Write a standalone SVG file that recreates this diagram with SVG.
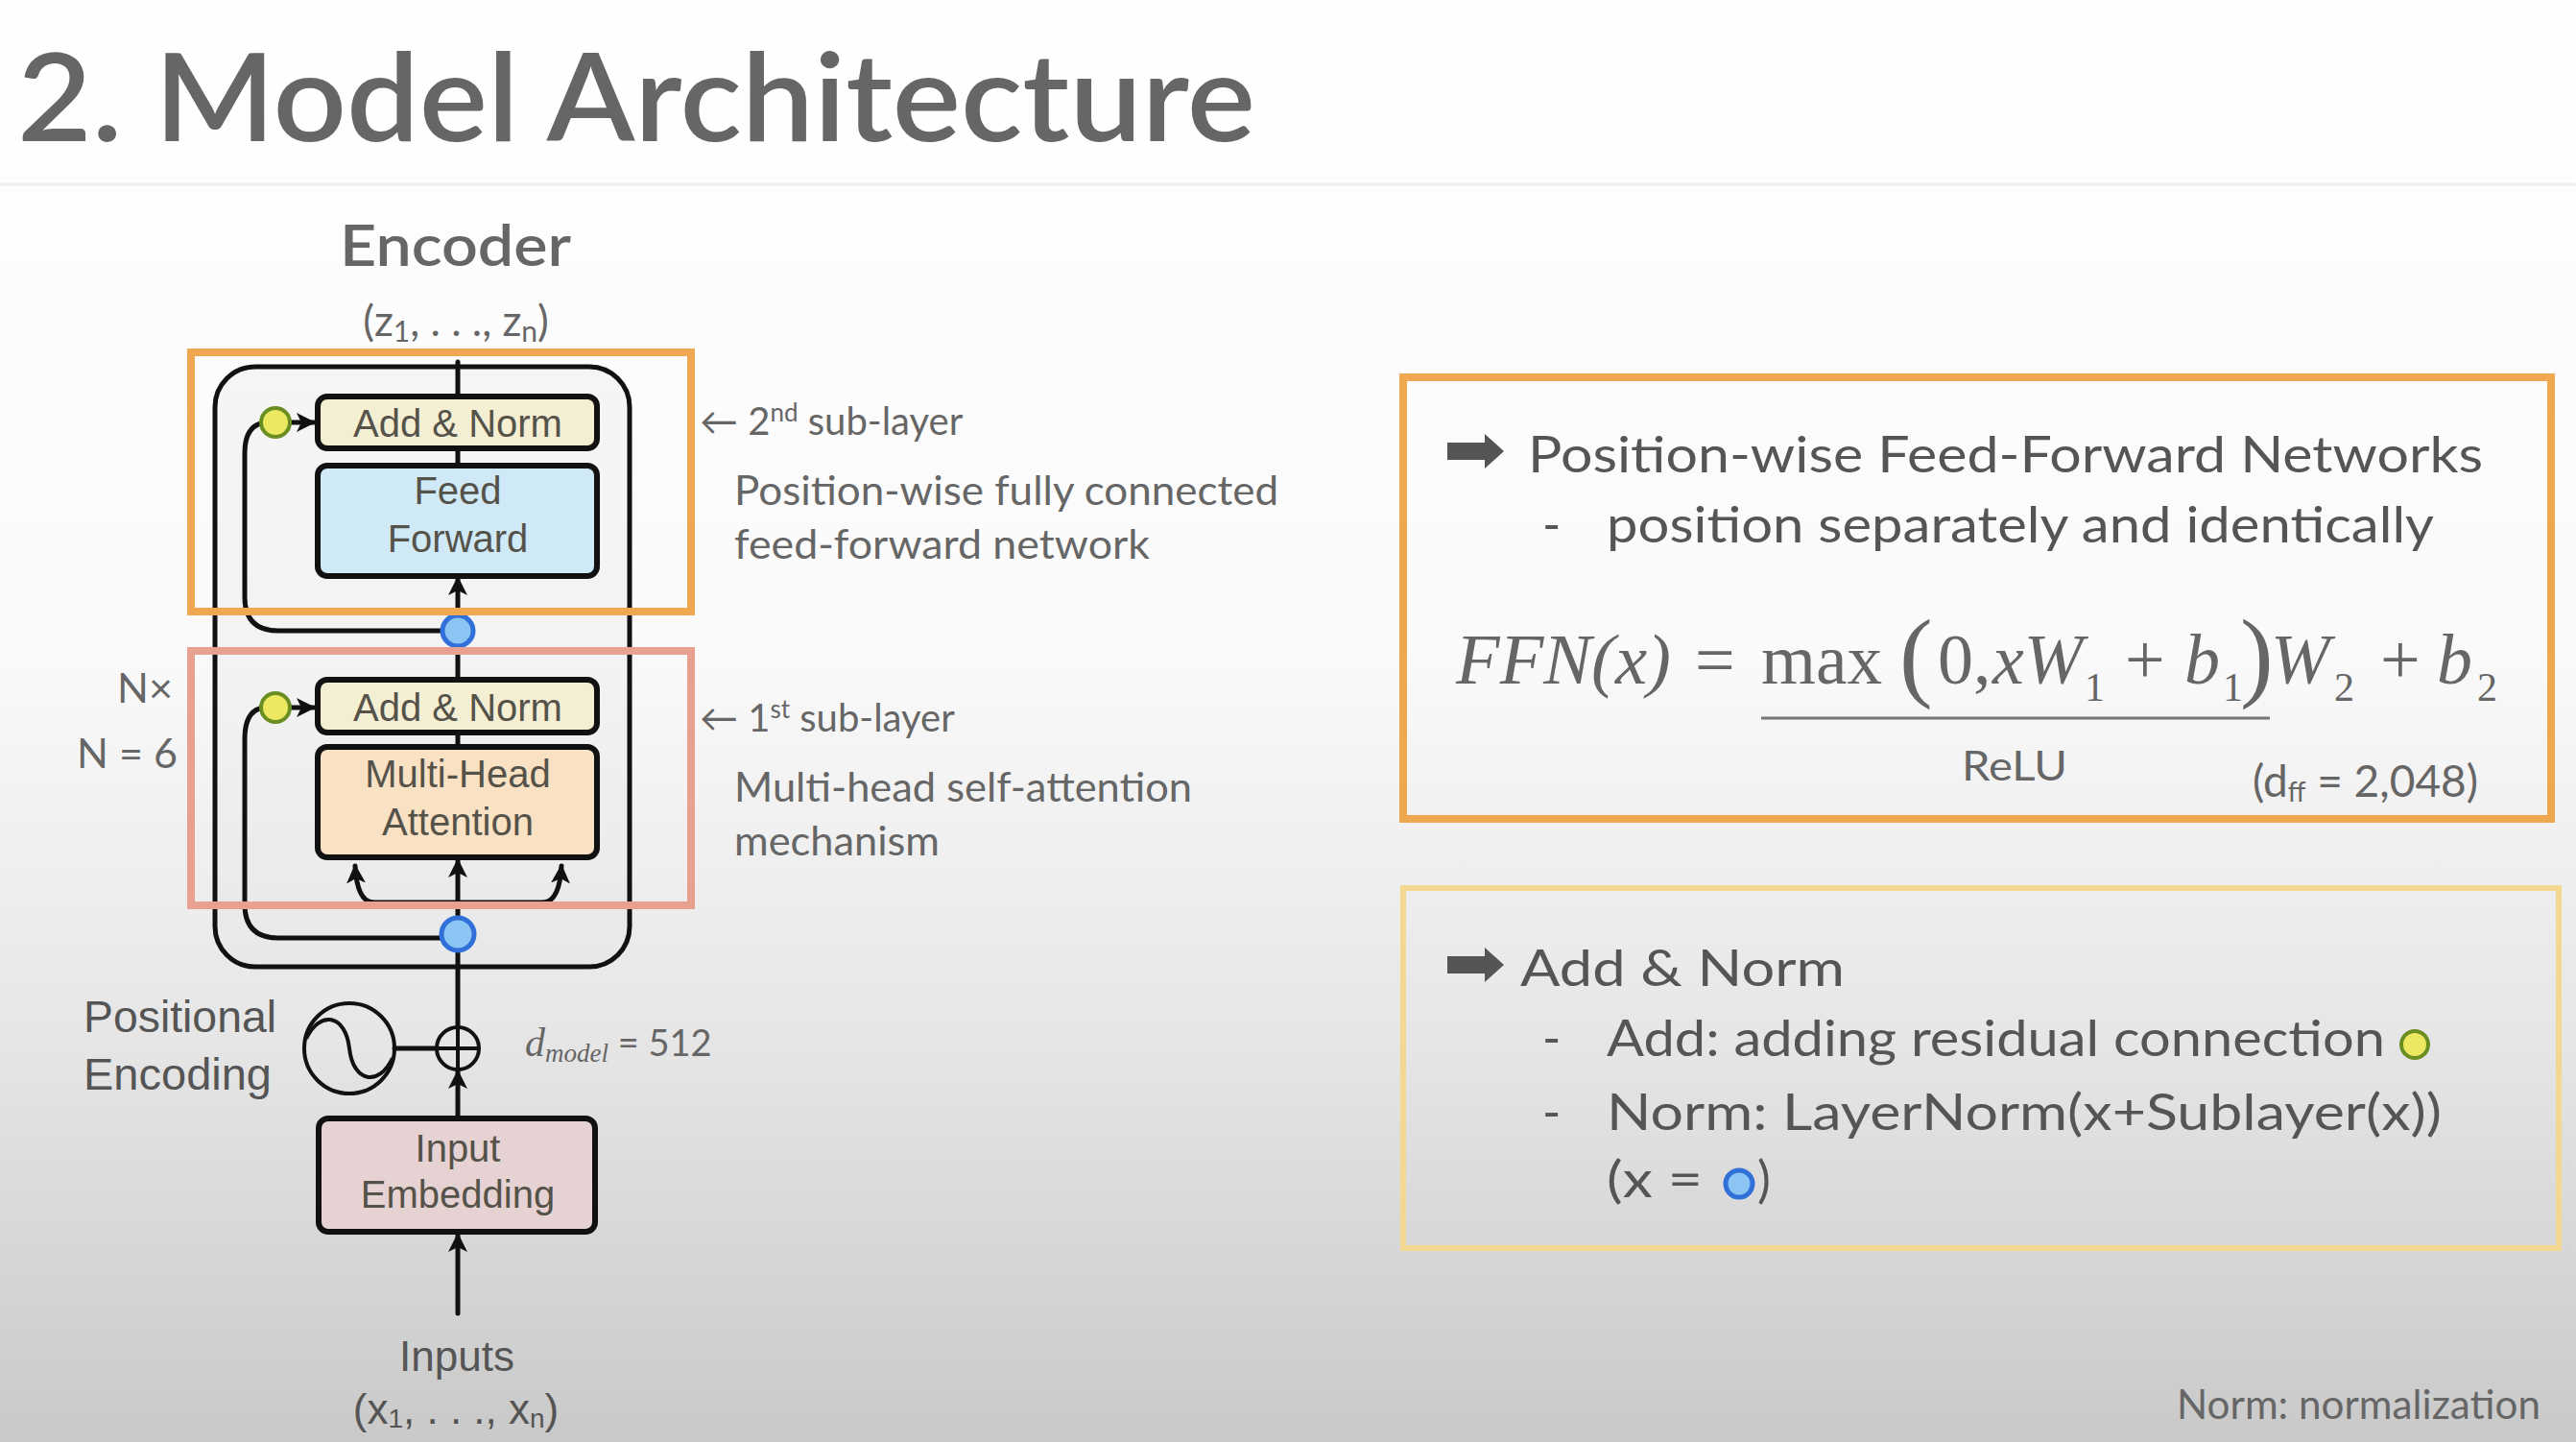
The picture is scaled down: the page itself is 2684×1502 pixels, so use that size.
<svg xmlns="http://www.w3.org/2000/svg" width="2684" height="1502" viewBox="0 0 2684 1502">
<defs>
<linearGradient id="bg" x1="0" y1="0" x2="0" y2="1">
<stop offset="0" stop-color="#ffffff"/>
<stop offset="0.45" stop-color="#fafafa"/>
<stop offset="0.72" stop-color="#e6e6e6"/>
<stop offset="1" stop-color="#c9c9c9"/>
</linearGradient>
<marker id="ah" viewBox="0 0 10 10" refX="9" refY="5" markerWidth="4" markerHeight="4" orient="auto" markerUnits="strokeWidth">
<path d="M0,0 L10,5 L0,10 L2.5,5 z" fill="#111"/>
</marker>
<style>
.ln{fill:none;stroke:#111;stroke-width:5;stroke-linecap:round;stroke-linejoin:round}
.box{stroke:#111;stroke-width:6}
.bt{font-family:"Liberation Sans",Arial,sans-serif;font-size:40px;fill:#55524a;text-anchor:middle}
.gs{font-family:Lato,"Open Sans","Liberation Sans",sans-serif;fill:#666}
.rt{font-family:Lato,"Open Sans","Liberation Sans",sans-serif;fill:#555;font-size:52px}
.hv{font-family:"Liberation Sans",Arial,sans-serif;fill:#555}
.fm{font-family:"Liberation Serif","Times New Roman",serif;fill:#666}
.yc{fill:#ece860;stroke:#6b8e23;stroke-width:4}
.bc{fill:#8cc4f4;stroke:#3070d8;stroke-width:5}
</style>
</defs>
<rect x="0" y="0" width="2684" height="1502" fill="url(#bg)"/>
<line x1="0" y1="192" x2="2684" y2="192" stroke="#efefef" stroke-width="3"/>

<g id="title">
<text x="18" y="147" class="gs" font-size="128" font-weight="600" fill="#686868" textLength="1290" lengthAdjust="spacingAndGlyphs">2. Model Architecture</text>
</g>

<g id="encoder-label">
<text x="354" y="277" class="gs" font-size="60" font-weight="600" textLength="241" lengthAdjust="spacingAndGlyphs">Encoder</text>
<text x="475" y="350" class="gs" font-size="44" text-anchor="middle" fill="#555">(z<tspan font-size="30" dy="6">1</tspan><tspan dy="-6">, . . ., z</tspan><tspan font-size="30" dy="6">n</tspan><tspan dy="-6">)</tspan></text>
</g>

<g id="encoder-block">
<rect x="224" y="382" width="432" height="625" rx="42" fill="#e4e4e4" fill-opacity="0.3" stroke="#111" stroke-width="5"/>
</g>

<g id="connectors">
<line class="ln" x1="477" y1="377" x2="477" y2="413"/>
<line class="ln" x1="477" y1="467" x2="477" y2="485"/>
<line class="ln" x1="477" y1="640" x2="477" y2="602" marker-end="url(#ah)"/>
<line class="ln" x1="477" y1="657" x2="477" y2="708"/>
<line class="ln" x1="477" y1="763" x2="477" y2="778"/>
<line class="ln" x1="477" y1="960" x2="477" y2="896" marker-end="url(#ah)"/>
<path class="ln" d="M388 940 H567"/>
<path class="ln" d="M388 940 Q372 938 370 902" marker-end="url(#ah)"/>
<path class="ln" d="M567 940 Q583 938 585 902" marker-end="url(#ah)"/>
<line class="ln" x1="477" y1="973" x2="477" y2="1070"/>
<line class="ln" x1="477" y1="1165" x2="477" y2="1116" marker-end="url(#ah)"/>
<line class="ln" x1="477" y1="1368" x2="477" y2="1286" marker-end="url(#ah)"/>
<path class="ln" d="M470 657 H290 Q255 657 255 622 V472 Q255 440 280 440"/>
<path class="ln" d="M470 977 H290 Q255 977 255 942 V770 Q255 737 278 737"/>
<line class="ln" x1="302" y1="440" x2="327" y2="440" marker-end="url(#ah)"/>
<line class="ln" x1="302" y1="737" x2="327" y2="737" marker-end="url(#ah)"/>
<line class="ln" x1="411" y1="1092" x2="455" y2="1092"/>
</g>

<g id="add-norm-2">
<rect class="box" x="331" y="413" width="291" height="54" rx="10" fill="#f4efd2"/>
<text class="bt" x="477" y="455">Add &amp; Norm</text>
</g>
<g id="feed-forward">
<rect class="box" x="331" y="485" width="291" height="115" rx="10" fill="#d0e9f7"/>
<text class="bt" x="477" y="525">Feed</text>
<text class="bt" x="477" y="575">Forward</text>
</g>
<g id="add-norm-1">
<rect class="box" x="331" y="708" width="291" height="55" rx="10" fill="#f4efd2"/>
<text class="bt" x="477" y="751">Add &amp; Norm</text>
</g>
<g id="multi-head-attention">
<rect class="box" x="331" y="778" width="291" height="115" rx="10" fill="#f9e1c4"/>
<text class="bt" x="477" y="820">Multi-Head</text>
<text class="bt" x="477" y="870">Attention</text>
</g>
<g id="input-embedding">
<rect class="box" x="332" y="1165" width="288" height="118" rx="10" fill="#e6d2d2"/>
<text class="bt" x="477" y="1210">Input</text>
<text class="bt" x="477" y="1258">Embedding</text>
</g>

<g id="residual-points">
<circle class="yc" cx="287" cy="440" r="15"/>
<circle class="yc" cx="287" cy="737" r="15"/>
<circle class="bc" cx="477" cy="657" r="16"/>
<circle class="bc" cx="477" cy="973" r="17"/>
</g>

<g id="positional-encoding">
<circle cx="364" cy="1092" r="47" fill="none" stroke="#111" stroke-width="4"/>
<path d="M319 1082 C333 1052,360 1056,364 1092 C368 1128,395 1132,409 1102" fill="none" stroke="#111" stroke-width="4"/>
<circle cx="477" cy="1092" r="22" fill="none" stroke="#111" stroke-width="4"/>
<line x1="477" y1="1072" x2="477" y2="1112" stroke="#111" stroke-width="4"/>
<line x1="457" y1="1092" x2="497" y2="1092" stroke="#111" stroke-width="4"/>
<text x="87" y="1075" class="hv" font-size="46" textLength="201" lengthAdjust="spacingAndGlyphs">Positional</text>
<text x="87" y="1135" class="hv" font-size="46" textLength="196" lengthAdjust="spacingAndGlyphs">Encoding</text>
<text x="547" y="1100" fill="#777"><tspan class="fm" font-style="italic" font-size="42" fill="#777">d</tspan><tspan class="fm" font-style="italic" font-size="27" dy="6" fill="#777">model</tspan><tspan class="gs" font-size="38" dy="-6" fill="#777"> = 512</tspan></text>
</g>

<g id="inputs">
<text x="476" y="1428" class="hv" font-size="44" text-anchor="middle">Inputs</text>
<text x="475" y="1483" class="hv" font-size="44" text-anchor="middle">(x<tspan font-size="28" dy="4">1</tspan><tspan dy="-4">, . . ., x</tspan><tspan font-size="28" dy="4">n</tspan><tspan dy="-4">)</tspan></text>
</g>

<g id="nx">
<text x="122" y="732" class="gs" font-size="42" textLength="58" lengthAdjust="spacingAndGlyphs">N×</text>
<text x="80" y="800" class="gs" font-size="42" textLength="105" lengthAdjust="spacingAndGlyphs">N = 6</text>
</g>

<g id="sublayer-labels">
<text x="729" y="453" class="gs" font-size="40">← 2<tspan font-size="26" dy="-14">nd</tspan><tspan dy="14"> sub-layer</tspan></text>
<text x="765" y="526" class="gs" font-size="42" textLength="567" lengthAdjust="spacingAndGlyphs">Position-wise fully connected</text>
<text x="765" y="582" class="gs" font-size="42" textLength="433" lengthAdjust="spacingAndGlyphs">feed-forward network</text>
<text x="729" y="762" class="gs" font-size="40">← 1<tspan font-size="26" dy="-14">st</tspan><tspan dy="14"> sub-layer</tspan></text>
<text x="765" y="835" class="gs" font-size="42" textLength="477" lengthAdjust="spacingAndGlyphs">Multi-head self-attention</text>
<text x="765" y="891" class="gs" font-size="42" textLength="214" lengthAdjust="spacingAndGlyphs">mechanism</text>
</g>

<g id="highlights">
<rect x="199" y="367" width="521" height="270" fill="none" stroke="#f0a850" stroke-width="8"/>
<rect x="199" y="678" width="521" height="265" fill="none" stroke="#e8a090" stroke-width="8"/>
</g>

<g id="ffn-panel">
<rect x="1462" y="393" width="1196" height="460" fill="none" stroke="#f0a850" stroke-width="8"/>
<path d="M1508 461 H1547 V452 L1567 470 L1547 488 V479 H1508 z" fill="#555"/>
<text x="1592" y="492" class="rt" textLength="995" lengthAdjust="spacingAndGlyphs">Position-wise Feed-Forward Networks</text>
<text x="1607" y="565" class="rt">-</text>
<text x="1674" y="565" class="rt" textLength="862" lengthAdjust="spacingAndGlyphs">position separately and identically</text>
<text y="712" class="fm" font-size="74"><tspan x="1517" font-style="italic" textLength="224" lengthAdjust="spacingAndGlyphs">FFN(x)</tspan><tspan x="1766">=</tspan><tspan x="1835" textLength="126" lengthAdjust="spacingAndGlyphs">max</tspan><tspan x="2019">0,</tspan><tspan x="2076" font-style="italic">xW</tspan><tspan x="2214">+</tspan><tspan x="2276" font-style="italic">b</tspan><tspan x="2366" font-style="italic">W</tspan><tspan x="2480">+</tspan><tspan x="2539" font-style="italic">b</tspan></text>
<text y="730" class="fm" font-size="42"><tspan x="2172">1</tspan><tspan x="2316">1</tspan><tspan x="2432">2</tspan><tspan x="2581">2</tspan></text>
<text y="717" class="fm" font-size="104"><tspan x="1979">(</tspan><tspan x="2334">)</tspan></text>
<line x1="1835" y1="748" x2="2365" y2="748" stroke="#777" stroke-width="3"/>
<text x="2044" y="813" class="gs" font-size="42" fill="#555" textLength="110" lengthAdjust="spacingAndGlyphs">ReLU</text>
<text x="2347" y="830" class="gs" font-size="46" fill="#555">(d<tspan font-size="28" dy="5">ff</tspan><tspan dy="-5"> = 2,048)</tspan></text>
</g>

<g id="addnorm-panel">
<rect x="1462" y="925" width="1204" height="375" fill="none" stroke="#f2d890" stroke-width="6"/>
<path d="M1508 996 H1547 V987 L1567 1005 L1547 1023 V1014 H1508 z" fill="#555"/>
<text x="1584" y="1027" class="rt" textLength="338" lengthAdjust="spacingAndGlyphs">Add &amp; Norm</text>
<text x="1607" y="1100" class="rt">-</text>
<text x="1674" y="1100" class="rt" textLength="811" lengthAdjust="spacingAndGlyphs">Add: adding residual connection</text>
<circle class="yc" cx="2516" cy="1088" r="14"/>
<text x="1607" y="1177" class="rt">-</text>
<text x="1674" y="1177" class="rt" textLength="870" lengthAdjust="spacingAndGlyphs">Norm: LayerNorm(x+Sublayer(x))</text>
<text x="1674" y="1247" class="rt" textLength="100" lengthAdjust="spacingAndGlyphs">(x =</text>
<circle class="bc" cx="1812" cy="1233" r="14"/>
<text x="1831" y="1247" class="rt">)</text>
</g>

<g id="footnote">
<text x="2268" y="1478" class="gs" font-size="42" fill="#555" textLength="379" lengthAdjust="spacingAndGlyphs">Norm: normalization</text>
</g>
</svg>
